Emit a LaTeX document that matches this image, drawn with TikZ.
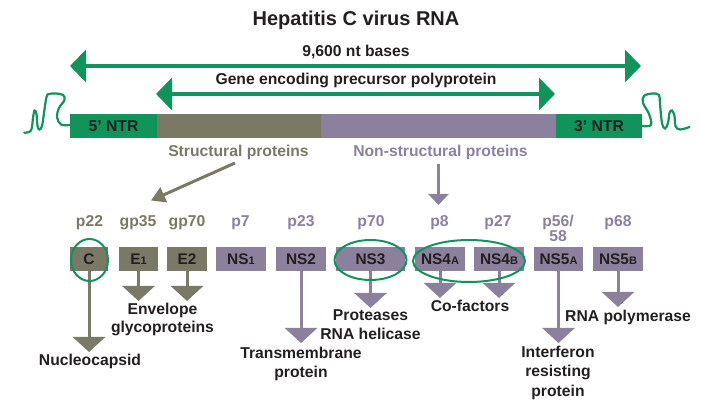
\documentclass[tikz,border=0pt]{standalone}
\usepackage{fontspec}
\setmainfont{Liberation Sans}
\usetikzlibrary{arrows.meta}
\definecolor{hgreen}{RGB}{16,148,92}
\definecolor{holive}{RGB}{122,121,102}
\definecolor{hpurple}{RGB}{139,129,157}
\definecolor{htext}{RGB}{35,31,32}
\newcommand\smc[1]{{\fontsize{11}{11}\selectfont #1}}
\begin{document}
\begin{tikzpicture}[x=1pt,y=-1pt,
  every node/.style={font=\bfseries\fontsize{15.7}{19}\selectfont, text=htext, inner sep=0pt},
  lbl/.style={anchor=base, align=center},
  seg/.style={minimum height=24pt, text height=11pt, text depth=0pt},
  box/.style={minimum height=24pt, text height=11pt, text depth=0pt, font=\bfseries\fontsize{15.4}{18}\selectfont},
  obox/.style={box, fill=holive},
  pbox/.style={box, fill=hpurple},
  olbl/.style={lbl, text=holive},
  plbl/.style={lbl, text=hpurple},
  span/.style={draw=hgreen, line width=4pt, {Triangle[width=32pt,length=16pt]}-{Triangle[width=32pt,length=16pt]}},
  down/.style={line width=3pt, -{Triangle[width=32pt,length=15pt]}},
  ring/.style={draw=hgreen, line width=2pt},
  squig/.style={draw=hgreen, line width=2.2pt, line cap=round}
]
\useasboundingbox (0,0) rectangle (701,411);

% title
\node[lbl, font=\bfseries\fontsize{20}{24}\selectfont] (title) at (356,26) {Hepatitis C virus RNA};

% span arrows
\coordinate (s1l) at (70,66); \coordinate (s1r) at (641,66);
\coordinate (s2l) at (156,94); \coordinate (s2r) at (555,94);
\draw[span] (s1l) -- (s1r);
\draw[span] (s2l) -- (s2r);
\node[lbl] (nt) at (356,57) {9,600 nt bases};
\node[lbl] (gene) at (356,85) {Gene encoding precursor polyprotein};

% genome bar
\node[seg, fill=hgreen, minimum width=87pt] (ntr5) at (113.5,126) {5’ NTR};
\node[seg, fill=holive, minimum width=164pt] (struct) at (239,126) {};
\node[seg, fill=hpurple, minimum width=235pt] (nonstruct) at (438.5,126) {};
\node[seg, fill=hgreen, minimum width=86pt] (ntr3) at (599,126) {3’ NTR};

% squiggles
\draw[squig] plot[smooth, tension=0.6] coordinates {(24.3,132.7) (31,130.5) (33,118) (34.5,110.5) (36.5,114) (37.5,126) (39.5,129.5) (42,126) (44,113) (46.5,97) (49,94) (56,93.5) (63,95) (64.5,100) (59,108) (57,117) (61,124.5) (ntr5.west|-0,125)};
\draw[squig] plot[smooth, tension=0.6] coordinates {(ntr3.east|-0,126) (651,125) (649,114) (643,103) (644,96) (652,93.5) (659,95) (660,104) (662,123) (665,128.5) (668,123) (669.5,113) (672,110.5) (674.5,116) (675.5,126) (680,129.5) (689.5,127)};

\node[olbl] (structlbl) at (238.5,156.7) {Structural proteins};
\node[plbl] (nonstructlbl) at (440.5,156.7) {Non-structural proteins};

% pointer arrows
\coordinate (oa1) at (235,163); \coordinate (oa2) at (151,200.5);
\draw[holive, line width=3pt, -{Triangle[width=16pt,length=14pt]}] (oa1) -- (oa2);
\coordinate (pa1) at (438.5,164); \coordinate (pa2) at (438.5,205);
\draw[hpurple, line width=3.5pt, -{Triangle[width=20pt,length=11pt]}] (pa1) -- (pa2);

% mass labels
\node[olbl] (m1) at (89.5,226.7) {p22};
\node[olbl] (m2) at (138,226.7) {gp35};
\node[olbl] (m3) at (187,226.7) {gp70};
\node[plbl] (m4) at (240.5,226.7) {p7};
\node[plbl] (m5) at (301,226.7) {p23};
\node[plbl] (m6) at (371,226.7) {p70};
\node[plbl] (m7) at (439.5,226.7) {p8};
\node[plbl] (m8) at (498,226.7) {p27};
\node[plbl, font=\bfseries\fontsize{15.7}{15}\selectfont] (m9) at (558,241.7) {p56/\\58};
\node[plbl] (m10) at (618,226.7) {p68};

% protein boxes
\node[obox, minimum width=38pt] (C) at (89,259) {C};
\node[obox, minimum width=39pt] (E1) at (138.5,259) {E\smc{1}};
\node[obox, minimum width=40pt] (E2) at (187,259) {E2};
\node[pbox, minimum width=50pt] (NS1) at (241,259) {NS\smc{1}};
\node[pbox, minimum width=50pt] (NS2) at (301,259) {NS2};
\node[pbox, minimum width=69pt] (NS3) at (370.5,259) {NS3};
\node[pbox, minimum width=50pt] (NS4A) at (440,259) {NS4\smc{A}};
\node[pbox, minimum width=50pt] (NS4B) at (499,259) {NS4\smc{B}};
\node[pbox, minimum width=49pt] (NS5A) at (558.5,259) {NS5\smc{A}};
\node[pbox, minimum width=50pt] (NS5B) at (618,259) {NS5\smc{B}};

% function arrows
\coordinate (tC) at (89,352);
\coordinate (tE1) at (138.5,301);
\coordinate (tE2) at (187,301);
\coordinate (tNS2) at (301,343);
\coordinate (tNS3) at (370.5,308);
\coordinate (tNS4A) at (440,298);
\coordinate (tNS4B) at (499,298);
\coordinate (tNS5A) at (558.5,343);
\coordinate (tNS5B) at (618,307);
\draw[down, holive] (C.south) -- (tC);
\draw[down, holive] (E1.south) -- (tE1);
\draw[down, holive] (E2.south) -- (tE2);
\draw[down, hpurple] (NS2.south) -- (tNS2);
\draw[down, hpurple] (NS3.south) -- (tNS3);
\draw[down, hpurple] (NS4A.south) -- (tNS4A);
\draw[down, hpurple] (NS4B.south) -- (tNS4B);
\draw[down, hpurple] (NS5A.south) -- (tNS5A);
\draw[down, hpurple] (NS5B.south) -- (tNS5B);

% highlight rings
\draw[ring] (89.5,260) ellipse [x radius=18.5pt, y radius=21pt];
\draw[ring] (370.5,260) ellipse [x radius=36pt, y radius=20pt];
\draw[ring] (469,261) ellipse [x radius=56pt, y radius=21pt];

% function labels
\node[lbl] (fC) at (90,365) {Nucleocapsid};
\node[lbl, font=\bfseries\fontsize{15.7}{18}\selectfont] (fE) at (162.5,333) {Envelope\\glycoproteins};
\node[lbl] (fNS2) at (301,377) {Transmembrane\\protein};
\node[lbl, font=\bfseries\fontsize{15.7}{20}\selectfont] (fNS3) at (370.5,340) {Proteases\\RNA helicase};
\node[lbl] (fNS4) at (470,311.7) {Co-factors};
\node[lbl] (fNS5B) at (628,321.7) {RNA polymerase};
\node[lbl, font=\bfseries\fontsize{15.7}{19.5}\selectfont] (fNS5A) at (558,396) {Interferon\\resisting\\protein};
\end{tikzpicture}
\end{document}
